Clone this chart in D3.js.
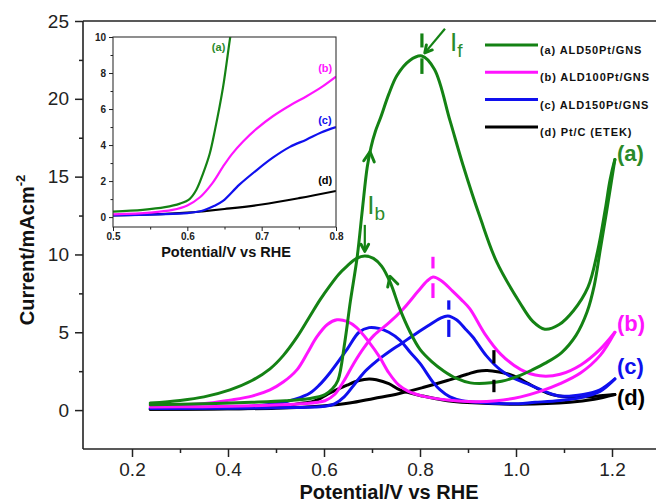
<!DOCTYPE html>
<html><head><meta charset="utf-8">
<script src="https://cdn.jsdelivr.net/npm/d3@7/dist/d3.min.js"></script>
<style>
html,body{margin:0;padding:0;background:#fff;}
svg{display:block;font-family:"Liberation Sans",Arial,sans-serif;}
</style></head>
<body><svg id="chart" width="656" height="504"></svg>
<script>
// ---------- data ----------
const seriesNames = ["(a) ALD50Pt/GNS","(b) ALD100Pt/GNS","(c) ALD150Pt/GNS","(d) Pt/C (ETEK)"];
const seriesTags = ["(a)","(b)","(c)","(d)"];
const colors = ["#148214","#ff14ff","#1010ee","#000000"];

const xTicks = [0.2,0.4,0.6,0.8,1.0,1.2];
const xMinor = [0.3,0.5,0.7,0.9,1.1];
const yTicks = [0,5,10,15,20,25];
const yMinor = [2.5,7.5,12.5,17.5,22.5];

// forward / backward scans [potential V, current mA cm-2]
const aFwd = [[0.238,0.35],[0.347,0.4],[0.449,0.5],[0.52,0.6],[0.571,0.75],[0.602,1.0],[0.617,1.35],[0.629,1.9],[0.643,4.3],[0.655,7.0],[0.669,9.8],[0.68,12.9],[0.69,15.6],[0.698,16.9],[0.707,17.9],[0.718,18.8],[0.735,20.3],[0.752,21.5],[0.778,22.45],[0.804,22.75],[0.83,21.9],[0.8625,18.6],[0.89,15.7],[0.925,12.4],[0.96,9.5],[1.008,6.9],[1.035,5.7],[1.06,5.2],[1.09,5.5],[1.12,6.4],[1.15,7.9],[1.17,10.2],[1.186,12.9],[1.196,14.8],[1.206,16.1]];
const aBwd = [[1.206,16.1],[1.19,13.0],[1.175,10.2],[1.163,8.0],[1.148,6.3],[1.125,4.8],[1.095,3.7],[1.06,3.0],[1.035,2.6],[1.01,2.25],[0.97,1.85],[0.935,1.72],[0.905,1.75],[0.875,2.05],[0.85,2.5],[0.825,3.1],[0.80,3.9],[0.778,5.1],[0.758,6.5],[0.738,8.2],[0.72,9.25],[0.703,9.75],[0.685,9.9],[0.668,9.75],[0.648,9.25],[0.63,8.7],[0.6125,8.0],[0.592,7.1],[0.57,6.0],[0.544,4.7],[0.515,3.5],[0.4875,2.65],[0.45,1.9],[0.404,1.3],[0.35,0.85],[0.30,0.62],[0.238,0.45]];
const bFwd = [[0.238,0.2],[0.347,0.22],[0.449,0.28],[0.551,0.4],[0.602,0.6],[0.622,1.0],[0.642,1.9],[0.662,3.0],[0.683,4.0],[0.704,4.8],[0.735,5.6],[0.765,6.5],[0.795,7.6],[0.815,8.3],[0.827,8.55],[0.845,8.3],[0.866,7.7],[0.886,7.1],[0.904,6.5],[0.935,4.9],[0.968,3.6],[1.01,2.6],[1.05,2.2],[1.092,2.3],[1.135,2.9],[1.175,3.9],[1.206,5.0]];
const bBwd = [[1.206,5.0],[1.175,3.5],[1.135,2.4],[1.092,1.7],[1.05,1.2],[1.01,0.85],[0.96,0.6],[0.9,0.55],[0.857,0.65],[0.806,0.9],[0.776,1.2],[0.756,1.6],[0.735,2.4],[0.716,3.4],[0.693,4.4],[0.668,5.3],[0.648,5.7],[0.627,5.8],[0.607,5.5],[0.585,4.7],[0.566,3.7],[0.544,2.6],[0.515,1.8],[0.4875,1.3],[0.45,0.9],[0.404,0.64],[0.347,0.4],[0.238,0.3]];
const cFwd = [[0.238,0.12],[0.398,0.12],[0.5,0.15],[0.602,0.25],[0.622,0.4],[0.642,0.85],[0.662,1.6],[0.683,2.4],[0.704,3.0],[0.72,3.4],[0.74,3.85],[0.76,4.25],[0.786,4.8],[0.816,5.4],[0.842,5.9],[0.858,6.05],[0.876,5.8],[0.895,5.2],[0.91,4.7],[0.938,3.5],[0.967,2.6],[0.995,2.05],[1.023,1.7],[1.06,1.2],[1.092,0.9],[1.14,1.0],[1.175,1.3],[1.206,2.0]];
const cBwd = [[1.206,2.0],[1.175,1.2],[1.135,0.8],[1.092,0.62],[1.04,0.5],[0.99,0.4],[0.931,0.48],[0.888,0.6],[0.8625,0.85],[0.842,1.3],[0.827,1.8],[0.8,3.0],[0.78,3.7],[0.758,4.5],[0.735,5.0],[0.714,5.25],[0.694,5.3],[0.673,5.0],[0.648,3.9],[0.6125,2.4],[0.59,1.6],[0.571,1.1],[0.54,0.7],[0.508,0.45],[0.449,0.25],[0.347,0.15],[0.238,0.12]];
const dFwd = [[0.238,0.05],[0.398,0.08],[0.5,0.12],[0.602,0.28],[0.653,0.45],[0.704,0.75],[0.755,1.05],[0.806,1.45],[0.857,1.9],[0.898,2.3],[0.92,2.5],[0.94,2.55],[0.965,2.45],[0.985,2.3],[1.002,2.1],[1.026,1.7],[1.05,1.3],[1.075,1.0],[1.106,0.85],[1.145,0.85],[1.175,0.92],[1.206,1.0]];
const dBwd = [[1.206,1.0],[1.163,0.7],[1.112,0.5],[1.01,0.38],[0.898,0.48],[0.857,0.6],[0.806,0.9],[0.758,1.3],[0.735,1.7],[0.709,1.95],[0.694,2.0],[0.673,1.9],[0.648,1.6],[0.6125,1.1],[0.595,0.8],[0.577,0.55],[0.544,0.4],[0.5,0.18],[0.398,0.08],[0.238,0.05]];

// inset (forward scans, zoomed)
const insetXTicks = [0.5,0.6,0.7,0.8];
const insetXMinor = [0.55,0.65,0.75];
const insetYTicks = [0,2,4,6,8,10];
const insetYMinor = [1,3,5,7,9];
const insetA = [[0.5,0.3],[0.54,0.4],[0.57,0.55],[0.59,0.75],[0.603,1.0],[0.612,1.5],[0.621,2.4],[0.63,3.5],[0.637,4.8],[0.648,7.2],[0.657,9.8],[0.66,10.6]];
const insetB = [[0.5,0.15],[0.55,0.25],[0.58,0.4],[0.6,0.65],[0.617,1.1],[0.634,1.9],[0.648,2.8],[0.66,3.5],[0.675,4.2],[0.693,4.9],[0.715,5.6],[0.738,6.2],[0.76,6.7],[0.78,7.2],[0.8,7.8]];
const insetC = [[0.5,0.1],[0.56,0.15],[0.6,0.22],[0.62,0.35],[0.635,0.6],[0.648,0.9],[0.67,1.8],[0.693,2.6],[0.715,3.3],[0.738,3.9],[0.76,4.3],[0.78,4.7],[0.8,5.0]];
const insetD = [[0.5,0.1],[0.55,0.15],[0.6,0.25],[0.62,0.32],[0.65,0.45],[0.7,0.7],[0.75,1.05],[0.8,1.45]];
const insetTagPos = [[0.633,9.2],[0.776,8.05],[0.776,5.15],[0.776,1.85]];

// annotations
const peakMarks = [
  {c:0, x:0.804, segs:[[24.2,23.3],[22.6,21.6]]},
  {c:1, x:0.827, segs:[[9.85,9.1],[8.15,7.2]]},
  {c:2, x:0.86, segs:[[7.05,6.45],[5.8,4.7]]},
  {c:3, x:0.954, segs:[[3.85,3.0],[1.95,1.15]]}
];
const scanArrows = [ [0.696,16.6,0.688,14.4], [0.7375,8.6,0.758,6.5] ]; // tip, from
const labelArrows = [ {from:[0.852,24.5], to:[0.81,22.95]}, {from:[0.685,11.9], to:[0.685,10.2]} ];
const peakLabels = [ {t:"I", s:"f", pos:[0.8625,23.1]}, {t:"I", s:"b", pos:[0.69,12.6]} ];
const tagY = [16.0, 5.1, 2.35, 0.3];

// ---------- scales ----------
const svg = d3.select("#chart");
const x = d3.scaleLinear().domain([0.2,1.2]).range([132,612]);
const y = d3.scaleLinear().domain([-2.5,25]).range([449,21]);
const X0 = 83, X1 = 660, Y0 = 449, Y1 = 21;
const FONT = "'Liberation Sans',Arial,sans-serif";

// frame
svg.append("line").attr("x1",X0).attr("x2",X0).attr("y1",Y1).attr("y2",Y0).attr("stroke","#222").attr("stroke-width",1.6);
svg.append("line").attr("x1",X0).attr("x2",X1).attr("y1",Y0).attr("y2",Y0).attr("stroke","#222").attr("stroke-width",1.6);
svg.append("line").attr("x1",X0).attr("x2",X1).attr("y1",Y1).attr("y2",Y1).attr("stroke","#222").attr("stroke-width",1.6);

function styleAxis(g, fs){
  g.select(".domain").remove();
  g.selectAll(".tick line").attr("stroke","#222").attr("stroke-width",1.5);
  g.selectAll(".tick text").attr("font-size",fs).attr("fill","#222").attr("font-family",FONT);
}
const gx = svg.append("g").attr("transform",`translate(0,${Y0})`)
  .call(d3.axisBottom(x).tickValues(xTicks).tickSize(8).tickPadding(6).tickFormat(d3.format(".1f")));
styleAxis(gx,19);
const gxm = svg.append("g").attr("transform",`translate(0,${Y0})`)
  .call(d3.axisBottom(x).tickValues(xMinor).tickSize(4).tickFormat(""));
styleAxis(gxm,19);
const gy = svg.append("g").attr("transform",`translate(${X0},0)`)
  .call(d3.axisLeft(y).tickValues(yTicks).tickSize(8).tickPadding(6).tickFormat(d3.format("d")));
styleAxis(gy,19);
const gym = svg.append("g").attr("transform",`translate(${X0},0)`)
  .call(d3.axisLeft(y).tickValues(yMinor).tickSize(4).tickFormat(""));
styleAxis(gym,19);

// axis titles
svg.append("text").attr("x",389).attr("y",499).attr("text-anchor","middle")
  .attr("font-size",20).attr("font-weight","bold").attr("fill","#111").text("Potential/V vs RHE");
const yt = svg.append("text").attr("transform","translate(34,250) rotate(-90)").attr("text-anchor","middle")
  .attr("font-size",20).attr("font-weight","bold").attr("fill","#111");
yt.append("tspan").text("Current/mAcm");
yt.append("tspan").attr("dy",-9).attr("font-size",13).text("-2");

// curves
const line = d3.line().x(d=>x(d[0])).y(d=>y(d[1])).curve(d3.curveCatmullRom.alpha(0.5));
const scans = [[aFwd,aBwd],[bFwd,bBwd],[cFwd,cBwd],[dFwd,dBwd]];
[3,2,1,0].forEach(i=>{
  scans[i].forEach(arr=>{
    svg.append("path").attr("d",line(arr)).attr("fill","none")
      .attr("stroke",colors[i]).attr("stroke-width",3).attr("stroke-linejoin","round").attr("stroke-linecap","round");
  });
});

// peak markers
peakMarks.forEach(m=>{
  m.segs.forEach(s=>{
    svg.append("line").attr("x1",x(m.x)).attr("x2",x(m.x)).attr("y1",y(s[0])).attr("y2",y(s[1]))
      .attr("stroke",colors[m.c]).attr("stroke-width",3.2);
  });
});

function chevron(tx,ty,fx,fy,len,col){
  const ang = Math.atan2(ty-fy, tx-fx);
  const a1 = ang + Math.PI - 0.5, a2 = ang + Math.PI + 0.5;
  const p = `M${tx+len*Math.cos(a1)},${ty+len*Math.sin(a1)}L${tx},${ty}L${tx+len*Math.cos(a2)},${ty+len*Math.sin(a2)}`;
  svg.append("path").attr("d",p).attr("fill","none").attr("stroke",col).attr("stroke-width",3).attr("stroke-linecap","round").attr("stroke-linejoin","round");
}
scanArrows.forEach(a=> chevron(x(a[0]),y(a[1]),x(a[2]),y(a[3]),11,colors[0]));

labelArrows.forEach(a=>{
  const fx=x(a.from[0]), fy=y(a.from[1]), tx=x(a.to[0]), ty=y(a.to[1]);
  svg.append("line").attr("x1",fx).attr("y1",fy).attr("x2",tx).attr("y2",ty).attr("stroke",colors[0]).attr("stroke-width",2.2);
  chevron(tx,ty,fx,fy,8,colors[0]);
});
peakLabels.forEach(p=>{
  const t = svg.append("text").attr("x",x(p.pos[0])).attr("y",y(p.pos[1]))
    .attr("fill","#2a8a2a").attr("font-size",26);
  t.append("tspan").text(p.t);
  t.append("tspan").attr("dy",6).attr("font-size",19).text(p.s);
});

// curve end labels
seriesTags.forEach((t,i)=>{
  svg.append("text").attr("x",x(1.206)+2).attr("y",y(tagY[i])).attr("font-size",22).attr("font-weight","bold")
    .attr("fill", i===0 ? "#2a8a2a" : colors[i]).text(t);
});

// legend
seriesNames.forEach((n,i)=>{
  const ly = 45 + i*27.3;
  svg.append("line").attr("x1",485).attr("x2",538).attr("y1",ly).attr("y2",ly).attr("stroke",colors[i]).attr("stroke-width",3);
  svg.append("text").attr("x",540).attr("y",ly+9).attr("font-size",11).attr("font-weight","bold")
    .attr("letter-spacing","0.9px").attr("fill","#111").text(n);
});

// ---------- inset ----------
const ix = d3.scaleLinear().domain([0.5,0.8]).range([113,336]);
const iy = d3.scaleLinear().domain([-0.55,10]).range([227,37]);
const ins = svg.append("g");
ins.append("rect").attr("x",113).attr("y",37).attr("width",223).attr("height",190).attr("fill","#fff");
svg.append("clipPath").attr("id","iclip").append("rect").attr("x",113).attr("y",37).attr("width",223).attr("height",190);
const iline = d3.line().x(d=>ix(d[0])).y(d=>iy(d[1])).curve(d3.curveCatmullRom.alpha(0.5));
const insetData = [insetA,insetB,insetC,insetD];
[3,2,1,0].forEach(i=>{
  ins.append("path").attr("clip-path","url(#iclip)").attr("d",iline(insetData[i])).attr("fill","none")
    .attr("stroke",colors[i]).attr("stroke-width",2.2).attr("stroke-linejoin","round");
});
ins.append("rect").attr("x",113).attr("y",37).attr("width",223).attr("height",190).attr("fill","none").attr("stroke","#333").attr("stroke-width",1.1);
const igx = ins.append("g").attr("transform","translate(0,227)")
  .call(d3.axisBottom(ix).tickValues(insetXTicks).tickSize(4).tickPadding(2).tickFormat(d3.format(".1f")));
styleAxis(igx,10); igx.selectAll(".tick text").attr("font-weight","bold");
const igxm = ins.append("g").attr("transform","translate(0,227)")
  .call(d3.axisBottom(ix).tickValues(insetXMinor).tickSize(2.5).tickFormat(""));
styleAxis(igxm,10);
const igy = ins.append("g").attr("transform","translate(113,0)")
  .call(d3.axisLeft(iy).tickValues(insetYTicks).tickSize(4).tickPadding(3).tickFormat(d3.format("d")));
styleAxis(igy,10); igy.selectAll(".tick text").attr("font-weight","bold");
const igym = ins.append("g").attr("transform","translate(113,0)")
  .call(d3.axisLeft(iy).tickValues(insetYMinor).tickSize(2.5).tickFormat(""));
styleAxis(igym,10);
[igx,igxm,igy,igym].forEach(g=>g.selectAll(".tick line").attr("stroke-width",1));
ins.append("text").attr("x",226).attr("y",257).attr("text-anchor","middle").attr("font-size",14.5)
  .attr("font-weight","bold").attr("fill","#111").text("Potential/V vs RHE");
seriesTags.forEach((t,i)=>{
  ins.append("text").attr("x",ix(insetTagPos[i][0])).attr("y",iy(insetTagPos[i][1]))
    .attr("font-size",11).attr("font-weight","bold").attr("fill", i===0 ? "#2a8a2a" : colors[i]).text(t);
});
</script>
</body></html>
